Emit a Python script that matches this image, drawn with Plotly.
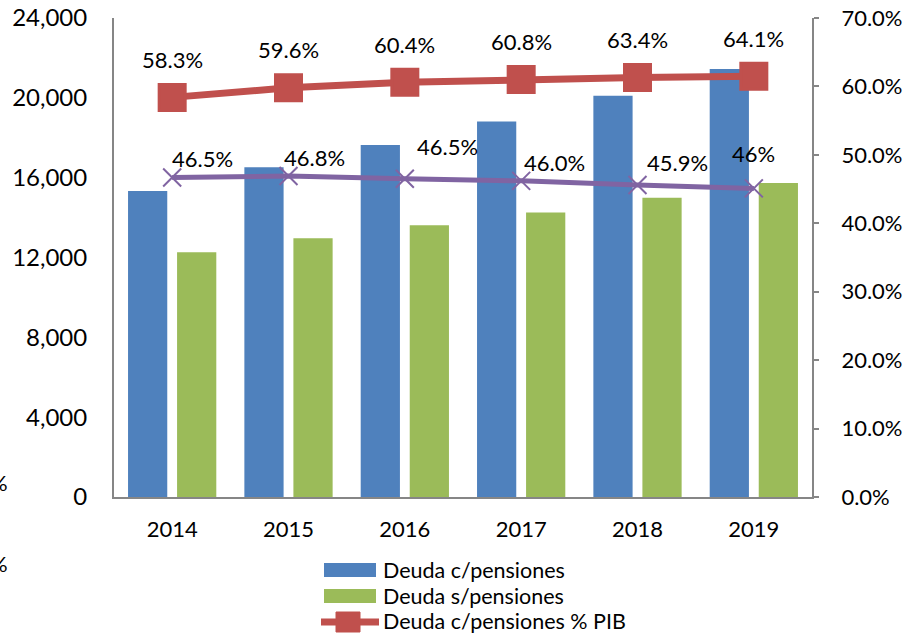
import plotly.graph_objects as go

# ---- data ----
years = ["2014", "2015", "2016", "2017", "2018", "2019"]
deuda_con = [15330, 16520, 17640, 18820, 20110, 21450]
deuda_sin = [12260, 12960, 13610, 14250, 15000, 15730]
pib_con = [58.4, 59.8, 60.6, 61.0, 61.3, 61.5]
pib_sin = [46.7, 46.9, 46.5, 46.2, 45.6, 45.1]
labels_con = ["58.3%", "59.6%", "60.4%", "60.8%", "63.4%", "64.1%"]
labels_sin = ["46.5%", "46.8%", "46.5%", "46.0%", "45.9%", "46%"]
left_ticks = [0, 4000, 8000, 12000, 16000, 20000, 24000]
right_ticks = [0, 10, 20, 30, 40, 50, 60, 70]

# ---- styles ----
BLUE = "#4F81BD"
GREEN = "#9BBB59"
RED = "#C0504D"
PURPLE = "#8064A2"
AXIS = "#868686"
FONT = "Lato"
FS = 22

# label offsets (px) for the purple series labels
sin_offsets = [(-2, 19), (-7, 19), (10, 32), (1, 18), (7, 22), (-24, 35)]

W, H = 920, 633
L, R, T, B = 114, 108, 18, 136
PW, PH = W - L - R, H - T - B


def px_x(px):
    return (px - L) / PW


def px_y(py):
    return (H - B - py) / PH


xi = list(range(len(years)))

fig = go.Figure()
fig.add_trace(go.Bar(x=xi, y=deuda_con, name="Deuda c/pensiones",
                     marker=dict(color=BLUE, line=dict(width=0)), showlegend=False))
fig.add_trace(go.Bar(x=xi, y=deuda_sin, name="Deuda s/pensiones",
                     marker=dict(color=GREEN, line=dict(width=0)), showlegend=False))
fig.add_trace(go.Scatter(x=xi, y=pib_con, yaxis="y2", mode="lines+markers",
                         name="Deuda c/pensiones % PIB",
                         line=dict(color=RED, width=7),
                         marker=dict(symbol="square", size=26, color=RED,
                                     line=dict(color=RED, width=3)),
                         showlegend=False))
fig.add_trace(go.Scatter(x=xi, y=pib_sin, yaxis="y2", mode="lines+markers",
                         name="Deuda s/pensiones % PIB",
                         line=dict(color=PURPLE, width=5),
                         marker=dict(symbol="x-thin", size=18,
                                     line=dict(color=PURPLE, width=2)),
                         showlegend=False))

annotations = []
for i, v, t in zip(xi, pib_con, labels_con):
    annotations.append(dict(x=i, y=v, xref="x", yref="y2", text=t, showarrow=False,
                            yshift=38, xanchor="center", yanchor="middle",
                            font=dict(family=FONT, size=FS, color="black")))
for i, v, t, (dx, dy) in zip(xi, pib_sin, labels_sin, sin_offsets):
    annotations.append(dict(x=i, y=v, xref="x", yref="y2", text=t, showarrow=False,
                            xshift=dx, yshift=dy, xanchor="left", yanchor="middle",
                            font=dict(family=FONT, size=FS, color="black")))

# custom legend
legend_items = [("Deuda c/pensiones", 570), ("Deuda s/pensiones", 596),
                ("Deuda c/pensiones % PIB", 621)]
shapes = [
    dict(type="rect", xref="paper", yref="paper", x0=px_x(324), x1=px_x(376),
         y0=px_y(577), y1=px_y(563), fillcolor=BLUE, line=dict(width=0)),
    dict(type="rect", xref="paper", yref="paper", x0=px_x(324), x1=px_x(376),
         y0=px_y(603), y1=px_y(589), fillcolor=GREEN, line=dict(width=0)),
    dict(type="line", xref="paper", yref="paper", x0=px_x(321), x1=px_x(379),
         y0=px_y(622), y1=px_y(622), line=dict(color=RED, width=7)),
    dict(type="rect", xref="paper", yref="paper", x0=px_x(336), x1=px_x(360),
         y0=px_y(632), y1=px_y(612), fillcolor=RED, line=dict(color=RED, width=1)),
]
for name, py in legend_items:
    annotations.append(dict(x=px_x(381), y=px_y(py), xref="paper", yref="paper",
                            text=name, showarrow=False, xanchor="left", yanchor="middle",
                            font=dict(family=FONT, size=21.5, color="black")))

# clipped fragments of an outer axis on the left edge
for py in (482, 563):
    annotations.append(dict(x=px_x(10), y=px_y(py), xref="paper", yref="paper",
                            text="%", showarrow=False, xanchor="right", yanchor="middle",
                            font=dict(family=FONT, size=FS, color="black")))

fig.update_layout(
    width=W, height=H,
    margin=dict(l=L, r=R, t=T, b=B, pad=0, autoexpand=False),
    paper_bgcolor="white", plot_bgcolor="white",
    barmode="group", bargap=0.157, bargroupgap=0.2,
    font=dict(family=FONT, size=FS, color="black"),
    showlegend=False,
    xaxis=dict(type="linear", range=[-0.5, len(years) - 0.5], tickvals=xi,
               ticktext=years, showgrid=False, zeroline=False, showline=True,
               linecolor=AXIS, linewidth=2, ticks="", ticklabelstandoff=12,
               tickfont=dict(size=FS), automargin=False),
    yaxis=dict(range=[0, 24000], tickvals=left_ticks, tickformat=",d",
               showgrid=False, zeroline=False, showline=True, linecolor=AXIS,
               linewidth=2, ticks="", ticklabelstandoff=20, tickfont=dict(size=24),
               automargin=False),
    yaxis2=dict(range=[0, 70], tickvals=right_ticks,
                ticktext=[f"{v:.1f}%" for v in right_ticks],
                overlaying="y", side="right", showgrid=False, zeroline=False,
                showline=True, linecolor=AXIS, linewidth=2, ticks="outside",
                ticklen=5, tickcolor=AXIS, tickwidth=2, ticklabelstandoff=18,
                tickfont=dict(size=FS), automargin=False),
    annotations=annotations,
    shapes=shapes,
)

fig.write_html("out.html", config={"displayModeBar": False},
               post_script="document.body.style.margin='0';")
